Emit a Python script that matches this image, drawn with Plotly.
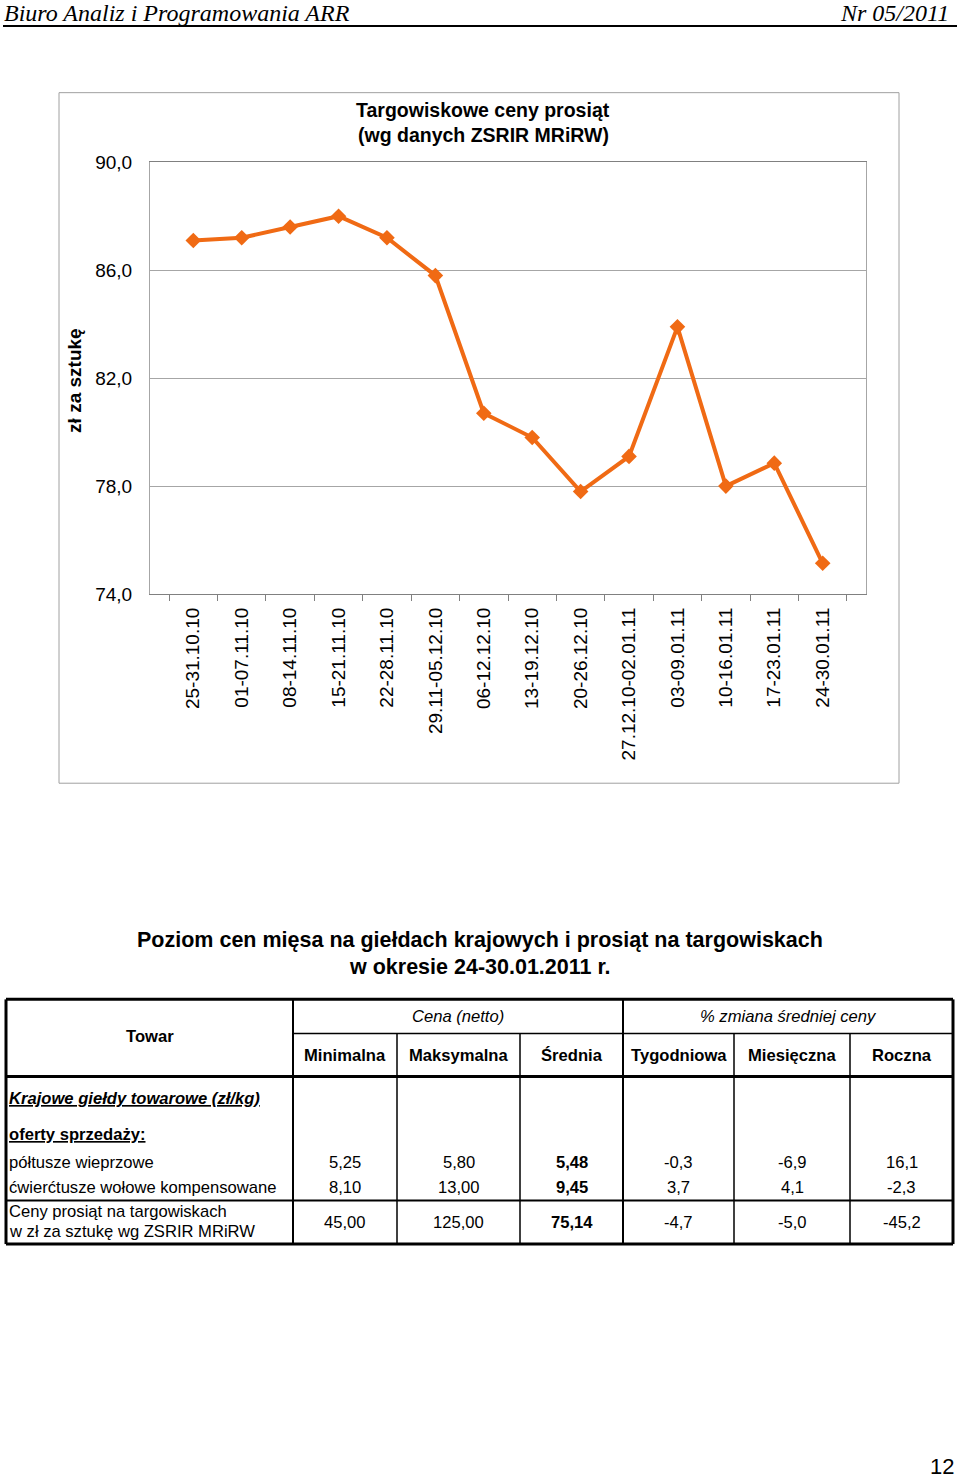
"""
Targowiskowe ceny prosiąt + tabela cen mięsa (strona biuletynu ARR)
"""

import plotly.graph_objects as go

# --- dane wykresu ---
weeks = [
    '25-31.10.10', '01-07.11.10', '08-14.11.10', '15-21.11.10', '22-28.11.10',
    '29.11-05.12.10', '06-12.12.10', '13-19.12.10', '20-26.12.10',
    '27.12.10-02.01.11', '03-09.01.11', '10-16.01.11', '17-23.01.11', '24-30.01.11',
]
piglet_prices = [87.1, 87.2, 87.6, 88.0, 87.2, 85.8, 80.7, 79.8, 77.8, 79.1, 83.9, 78.0, 78.85, 75.14]

# --- dane tabeli ---
sub_headers = ['Minimalna', 'Maksymalna', 'Średnia', 'Tygodniowa', 'Miesięczna', 'Roczna']
products = ['półtusze wieprzowe', 'ćwierćtusze wołowe kompensowane']
price_min = ['5,25', '8,10', '45,00']
price_max = ['5,80', '13,00', '125,00']
price_avg = ['5,48', '9,45', '75,14']
chg_week = ['-0,3', '3,7', '-4,7']
chg_month = ['-6,9', '4,1', '-5,0']
chg_year = ['16,1', '-2,3', '-45,2']

W, H = 960, 1500
ORANGE = '#F06A14'
FONT = 'Liberation Sans'
TS = 16.6  # rozmiar tekstu w tabeli

# korekta pionowa zrzutu ekranu (zmierzona w poprzednich przebiegach)
Y_OFF, Y_SCALE = 10.4, 0.98523


def px(x):
    return x / W


def py(y):
    return 1 - ((y - Y_OFF) / Y_SCALE) / H


fig = go.Figure()

fig.add_trace(go.Scatter(
    x=weeks,
    y=piglet_prices,
    mode='lines+markers',
    line=dict(color=ORANGE, width=4),
    marker=dict(symbol='diamond', size=12, color=ORANGE),
    showlegend=False,
    hoverinfo='skip'
))

shapes = []
annotations = []


def line(x0, y0, x1, y1, width=1.5, color='black'):
    shapes.append(dict(type='line', xref='paper', yref='paper',
                       x0=px(x0), y0=py(y0), x1=px(x1), y1=py(y1),
                       line=dict(color=color, width=width)))


def text(x, y, s, size=TS, anchor='center', color='black', family=FONT, angle=0):
    annotations.append(dict(xref='paper', yref='paper', x=px(x), y=py(y),
                            text=s, showarrow=False, xanchor=anchor, yanchor='middle',
                            textangle=angle,
                            font=dict(size=size, color=color, family=family)))


# naglowek strony
text(2, 13, '<i>Biuro Analiz i Programowania ARR</i>', size=24, anchor='left', family='Liberation Serif')
text(951, 13, '<i>Nr 05/2011</i>', size=24, anchor='right', family='Liberation Serif')
line(3, 26.5, 957, 26.5, width=2)

# ramka wykresu
shapes.append(dict(type='rect', xref='paper', yref='paper',
                   x0=px(59), y0=py(93), x1=px(899), y1=py(783),
                   line=dict(color='#a0a0a0', width=1)))
text(483, 110, '<b>Targowiskowe ceny prosiąt</b>', size=19.5)
text(483, 135, '<b>(wg danych ZSRIR MRiRW)</b>', size=19.5)
text(75, 381, '<b>zł za sztukę</b>', size=19, angle=-90)

# tytul tabeli
text(480, 940, '<b>Poziom cen mięsa na giełdach krajowych i prosiąt na targowiskach</b>', size=21.5)
text(480, 967, '<b>w okresie 24-30.01.2011 r.</b>', size=21.5)

# siatka tabeli
col_x = [6, 293, 397, 520, 623, 734, 850, 953]
top, mid, hdr, sep, bot = 999, 1033, 1076, 1200, 1243.5
line(col_x[0], top, col_x[-1], top, width=3)
line(col_x[0], bot, col_x[-1], bot, width=3)
line(col_x[0], top, col_x[0], bot, width=3)
line(col_x[-1], top, col_x[-1], bot, width=3)
line(col_x[1], mid, col_x[-1], mid, width=1.5)
line(col_x[0], hdr, col_x[-1], hdr, width=3)
line(col_x[0], sep, col_x[-1], sep, width=2)
line(col_x[1], top, col_x[1], bot, width=2)
line(col_x[4], top, col_x[4], bot, width=2)
for cx in [col_x[2], col_x[3], col_x[5], col_x[6]]:
    line(cx, mid, cx, bot, width=1.5)

centers = [(col_x[i] + col_x[i + 1]) / 2 for i in range(1, 7)]

text(150, 1036, '<b>Towar</b>')
text(458, 1016, '<i>Cena (netto)</i>')
text(788, 1016, '<i>% zmiana średniej ceny</i>')
for cx, h in zip(centers, sub_headers):
    text(cx, 1055, '<b>%s</b>' % h)

text(7, 1098, '<b><i><u>Krajowe giełdy towarowe (zł/kg)</u></i></b>', anchor='left')
text(7, 1134, '<b><u>oferty sprzedaży:</u></b>', anchor='left')
row_y = [1162, 1187, 1222]
text(7, row_y[0], products[0], anchor='left')
text(7, row_y[1], products[1], anchor='left')
text(7, 1211, 'Ceny prosiąt na targowiskach', anchor='left')
text(7, 1231, 'w zł za sztukę wg ZSRIR MRiRW', anchor='left')

for r in range(3):
    text(centers[0], row_y[r], price_min[r])
    text(centers[1], row_y[r], price_max[r])
    text(centers[2], row_y[r], '<b>%s</b>' % price_avg[r])
    text(centers[3], row_y[r], chg_week[r])
    text(centers[4], row_y[r], chg_month[r])
    text(centers[5], row_y[r], chg_year[r])

# numer strony
text(942, 1466, '12', size=22)

fig.update_layout(
    width=W,
    height=H,
    margin=dict(l=0, r=0, t=0, b=0),
    paper_bgcolor='white',
    plot_bgcolor='white',
    separators=',.',
    font=dict(family=FONT, color='black'),
    shapes=shapes,
    annotations=annotations,
    xaxis=dict(
        domain=[px(150), px(866)],
        type='category',
        tickangle=-90,
        tickson='boundaries',
        ticks='outside',
        ticklen=6,
        tickcolor='#808080',
        ticklabelstandoff=5,
        showline=True,
        linecolor='#808080',
        mirror=True,
        showgrid=False,
        tickfont=dict(size=19, color='black'),
    ),
    yaxis=dict(
        domain=[py(594), py(162.5)],
        range=[74, 90],
        tick0=74,
        dtick=4,
        tickformat='.1f',
        showgrid=True,
        gridcolor='#a6a6a6',
        showline=True,
        linecolor='#a6a6a6',
        mirror=True,
        zeroline=False,
        ticks='',
        ticklabelstandoff=13,
        tickfont=dict(size=19, color='black'),
    ),
)

# wykres przypiety do lewego gornego rogu strony, bez marginesow
pin_page = """
var st = document.createElement('style');
st.innerHTML = 'html,body{margin:0;padding:0;}';
document.head.appendChild(st);
var gd = document.getElementsByClassName('plotly-graph-div')[0];
gd.style.position = 'absolute';
gd.style.left = '0px';
gd.style.top = '0px';
"""

fig.write_html("out.html", config={'displayModeBar': False}, post_script=pin_page)
